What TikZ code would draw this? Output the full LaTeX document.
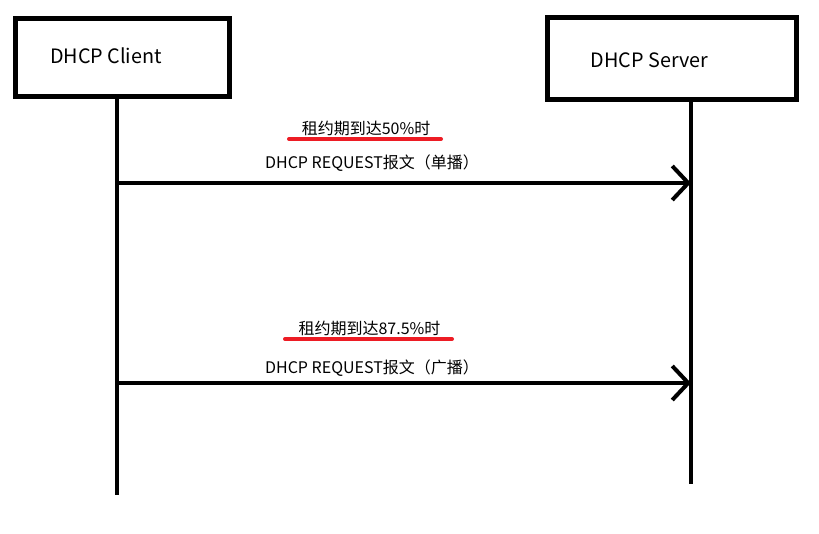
\documentclass[tikz,border=0pt]{standalone}
\usepackage{fontspec}
\setmainfont{Noto Sans CJK SC}
\usetikzlibrary{arrows.meta,positioning}
\definecolor{paintred}{RGB}{237,28,36}

\begin{document}
\begin{tikzpicture}[x=1pt, y=-1pt, every node/.style={font=\fontsize{16}{19}\selectfont, inner sep=0pt}]
  \useasboundingbox (0,0) rectangle (819,533);
  \tikzset{
    hostbox/.style={draw, line width=5pt, minimum width=#1},
    hostname/.style={font=\fontsize{19.8}{23}\selectfont},
    lifeline/.style={line width=4.5pt},
    msgarrow/.style={line width=4pt, -{Straight Barb[length=16pt, width=34pt, line width=4pt]}},
    redmark/.style={paintred, line width=4pt, line cap=round}
  }
  % hosts
  \node[hostbox=214pt, minimum height=78pt] (clientbox) at (122.5,57.5) {};
  \node[hostbox=249pt, minimum height=82pt] (serverbox) at (671.5,58.5) {};
  \node[hostname] (clientlbl) at (106,56) {DHCP Client};
  \node[hostname] (serverlbl) at (649.5,60) {DHCP Server};
  % lifelines
  \coordinate (cend) at (117,495);
  \coordinate (send) at (691,484);
  \draw[lifeline] (clientbox.south -| cend) -- (cend);
  \draw[lifeline] (serverbox.south -| send) -- (send);
  % messages
  \foreach \n/\y/\my/\pct/\how/\ul/\ur in {1/183/163/50\%/单播/289/441, 2/383/368/87.5\%/广播/285/452}{
    \coordinate (c\n) at (117,\y);
    \coordinate (s\n) at (691,\y);
    \draw[msgarrow] (c\n) -- (s\n);
    \node (msg\n) at (372,\my) {DHCP REQUEST报文（\how）};
    \node (when\n) at ({(\ul+\ur)/2+1},\y-55) {租约期到达\pct 时};
    \coordinate (ul\n) at (\ul,\y-44);
    \coordinate (ur\n) at (\ur,\y-44);
    \draw[redmark] (ul\n) -- (ur\n);
  }
\end{tikzpicture}
\end{document}
